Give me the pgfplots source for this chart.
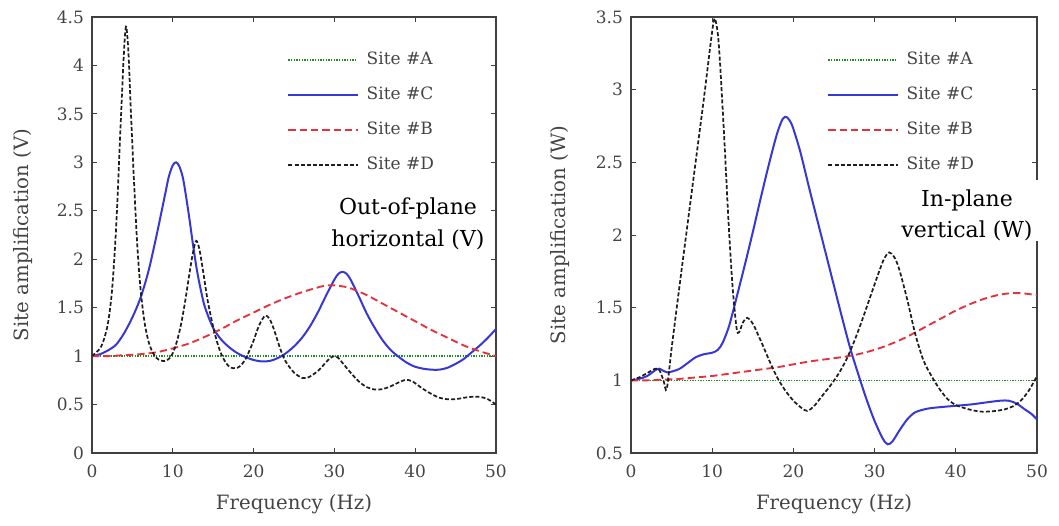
\documentclass[border=0pt]{standalone}
\usepackage{pgfplots}
\pgfplotsset{compat=1.18}
\usepackage{fontspec}
\setmainfont{DejaVu Serif}
\definecolor{txt}{HTML}{444444}
\definecolor{cA}{RGB}{30,140,30}
\definecolor{cC}{RGB}{55,55,215}
\definecolor{cB}{RGB}{228,50,60}
\definecolor{cD}{RGB}{30,30,30}
\tikzset{
  sA/.style={cA, line width=1pt, dash pattern=on 1pt off 1pt},
  sC/.style={cC, line width=1.5pt},
  sB/.style={cB, line width=1.4pt, dash pattern=on 5.5pt off 3pt},
  sD/.style={cD, line width=1.3pt, dash pattern=on 3pt off 1.6pt},
}
\pgfplotsset{
  myaxis/.style={
    scale only axis, width=303pt, height=327pt,
    xmin=0, xmax=50, xtick={0,10,...,50},
    axis line style={black!75, line width=0.9pt},
    tick align=inside, major tick length=3.5pt,
    tick style={black!75, line width=0.7pt},
    /pgf/number format/assume math mode=true,
    tick label style={font=\fontsize{12.75}{15}\selectfont, text=txt},
    yticklabel style={xshift=-2.5pt},
    xticklabel style={yshift=-5.5pt},
    label style={font=\fontsize{14.8}{17}\selectfont, text=txt},
    xlabel={Frequency (Hz)},
    xlabel style={at={(axis description cs:0.5,-0.118)}, anchor=center},
    legend cell align=left,
    legend style={draw=none, fill=none, inner sep=0pt, row sep=14.25pt, column sep=6pt,
      font=\fontsize{12.75}{15}\selectfont, text=txt,
      at={(axis description cs:0.483,0.92)}, anchor=north west,
      nodes={inner sep=0pt, text height=9pt, text depth=3pt}},
    legend image code/.code={\draw[##1] (0pt,0pt) -- (52pt,0pt);},
  },
}
\begin{document}
\begin{tikzpicture}
\useasboundingbox (0,0) rectangle (794.25pt,393.75pt);
% ---------------- left axis ----------------
\begin{axis}[myaxis, at={(69pt,54pt)}, anchor=south west,
  ymin=0, ymax=4.5, ytick={0,0.5,1,1.5,2,2.5,3,3.5,4,4.5},
  ylabel={Site amplification (V)},
  ylabel style={at={(axis description cs:-0.171,0.5)}, anchor=center}]
\addplot[sA] coordinates {(0,1) (50,1)};
\addlegendentry{Site \#A}
\addplot[sC, smooth] coordinates {
(0,1.00) (1,1.02) (2,1.06) (3,1.12) (4,1.24) (5,1.40) (6,1.60) (7,1.88) (8,2.25) (9,2.65) (9.5,2.85) (10,2.97) (10.4,3.00) (10.8,2.96) (11.3,2.82) (12,2.45) (12.5,2.15) (13,1.88) (13.5,1.67) (14,1.50) (15,1.29) (16,1.17) (17,1.09) (18,1.03) (19,0.99) (20,0.96) (21,0.945) (22,0.95) (23,0.98) (24,1.03) (25,1.10) (26,1.19) (27,1.31) (28,1.46) (29,1.63) (30,1.79) (30.5,1.85) (31,1.87) (31.5,1.85) (32,1.79) (33,1.62) (34,1.44) (35,1.29) (36,1.16) (37,1.06) (38,0.99) (39,0.93) (40,0.89) (41,0.87) (42,0.86) (43,0.86) (44,0.88) (45,0.92) (46,0.97) (47,1.04) (48,1.11) (49,1.19) (50,1.28)};
\addlegendentry{Site \#C}
\addplot[sB, smooth] coordinates {
(0,1.00) (2,1.00) (4,1.01) (6,1.02) (8,1.04) (10,1.08) (12,1.13) (14,1.20) (16,1.28) (18,1.37) (20,1.45) (22,1.53) (24,1.60) (26,1.66) (28,1.71) (29,1.73) (30,1.73) (31,1.72) (32,1.70) (34,1.63) (36,1.54) (38,1.45) (40,1.36) (42,1.27) (44,1.19) (46,1.11) (48,1.05) (50,1.00)};
\addlegendentry{Site \#B}
\addplot[sD, smooth] coordinates {
(0,1.00) (1,1.08) (1.5,1.18) (2,1.35) (2.5,1.70) (3,2.35) (3.5,3.30) (3.9,4.05) (4.2,4.40) (4.5,4.15) (4.8,3.55) (5.2,2.80) (5.6,2.15) (6,1.70) (6.5,1.35) (7,1.15) (7.5,1.04) (8,0.98) (8.5,0.955) (9,0.95) (9.5,0.97) (10,1.03) (10.5,1.15) (11,1.32) (11.5,1.55) (12,1.82) (12.5,2.07) (12.9,2.19) (13.3,2.10) (13.8,1.85) (14.3,1.58) (15,1.30) (15.5,1.14) (16,1.02) (16.5,0.94) (17,0.89) (17.5,0.875) (18,0.88) (18.5,0.91) (19,0.97) (19.5,1.06) (20,1.16) (20.5,1.28) (21,1.37) (21.5,1.42) (22,1.38) (22.5,1.28) (23,1.15) (23.5,1.03) (24,0.94) (25,0.83) (26,0.775) (26.5,0.775) (27,0.79) (28,0.85) (29,0.94) (29.5,0.98) (30,1.00) (30.5,0.98) (31,0.93) (32,0.83) (33,0.74) (34,0.68) (35,0.655) (36,0.66) (37,0.69) (38,0.73) (38.8,0.755) (39.5,0.745) (40,0.72) (41,0.66) (42,0.61) (43,0.57) (44,0.555) (45,0.555) (46,0.57) (47,0.58) (48,0.58) (49,0.555) (50,0.50)};
\addlegendentry{Site \#D}
\end{axis}
% ---------------- right axis ----------------
\begin{axis}[myaxis, at={(473.25pt,54pt)}, anchor=south west, width=304.5pt,
  ymin=0.5, ymax=3.5, ytick={0.5,1,1.5,2,2.5,3,3.5},
  ylabel={Site amplification (W)},
  ylabel style={at={(axis description cs:-0.175,0.5)}, anchor=center}]
\addplot[sA] coordinates {(0,1) (50,1)};
\addlegendentry{Site \#A}
\addplot[sC, smooth] coordinates {
(0,1.00) (1,1.01) (2,1.03) (3,1.07) (3.5,1.08) (4,1.065) (4.5,1.055) (5,1.06) (6,1.08) (7,1.12) (8,1.16) (9,1.18) (10,1.19) (10.7,1.21) (11.3,1.26) (12,1.36) (12.5,1.46) (13,1.57) (14,1.79) (15,2.02) (16,2.26) (17,2.49) (18,2.70) (18.7,2.80) (19.2,2.81) (19.8,2.76) (20.5,2.64) (21,2.54) (22,2.31) (23,2.09) (24,1.87) (25,1.65) (26,1.43) (27,1.22) (28,1.04) (29,0.87) (30,0.72) (31,0.60) (31.6,0.56) (32.2,0.58) (33,0.65) (34,0.73) (35,0.78) (36.5,0.805) (38,0.815) (40,0.825) (42,0.835) (44,0.85) (45.5,0.86) (46.5,0.86) (47.5,0.84) (48.5,0.80) (49.3,0.77) (50,0.73)};
\addlegendentry{Site \#C}
\addplot[sB, smooth] coordinates {
(0,1.00) (2,1.00) (4,1.005) (6,1.01) (8,1.02) (10,1.03) (12,1.045) (14,1.06) (16,1.075) (18,1.09) (20,1.11) (22,1.13) (24,1.145) (26,1.16) (28,1.18) (30,1.21) (32,1.25) (34,1.30) (36,1.36) (38,1.42) (40,1.48) (42,1.53) (44,1.57) (46,1.595) (48,1.60) (50,1.585)};
\addlegendentry{Site \#B}
\addplot[sD, smooth] coordinates {
(0,1.00) (1,1.02) (2,1.05) (3,1.08) (3.5,1.07) (4,1.00) (4.4,0.94) (5,1.22) (6,1.66) (7,2.09) (8,2.52) (9,2.95) (9.9,3.36) (10.3,3.49) (10.7,3.38) (11,3.15) (11.5,2.65) (12,2.10) (12.5,1.65) (13,1.36) (13.3,1.33) (13.8,1.40) (14.3,1.43) (15,1.39) (16,1.27) (17,1.14) (18,1.02) (19,0.93) (20,0.86) (21,0.81) (21.7,0.79) (22.5,0.82) (23.5,0.89) (24.5,0.96) (25.5,1.04) (26.5,1.14) (27.5,1.27) (28.5,1.42) (29.5,1.58) (30.5,1.74) (31.2,1.84) (31.8,1.88) (32.4,1.85) (33,1.77) (34,1.56) (35,1.32) (36,1.14) (37,1.03) (38,0.94) (39,0.87) (40,0.83) (41,0.81) (42,0.795) (43,0.785) (44,0.785) (45,0.79) (46,0.80) (47,0.82) (48,0.86) (49,0.93) (50,1.03)};
\addlegendentry{Site \#D}
\end{axis}
% ---------------- annotations ----------------
\fill[white] (247.5pt,197.25pt) rectangle (365.25pt,249pt);
\node[anchor=base, inner sep=0pt, font=\fontsize{16.5}{23}\selectfont] at (306pt,232.5pt) {Out-of-plane};
\node[anchor=base, inner sep=0pt, font=\fontsize{16.5}{23}\selectfont] at (306pt,208.5pt) {horizontal (V)};
\begin{scope}
\clip (673.5pt,213pt) rectangle (784.5pt,258.75pt);
\fill[white] (673.5pt,213pt) rectangle (784.5pt,258.75pt);
\node[anchor=base, inner sep=0pt, font=\fontsize{16.5}{23}\selectfont] at (725.25pt,238.5pt) {In-plane};
\node[anchor=base, inner sep=0pt, font=\fontsize{16.5}{23}\selectfont] at (725.25pt,215.25pt) {vertical (W)};
\end{scope}
\end{tikzpicture}
\end{document}
